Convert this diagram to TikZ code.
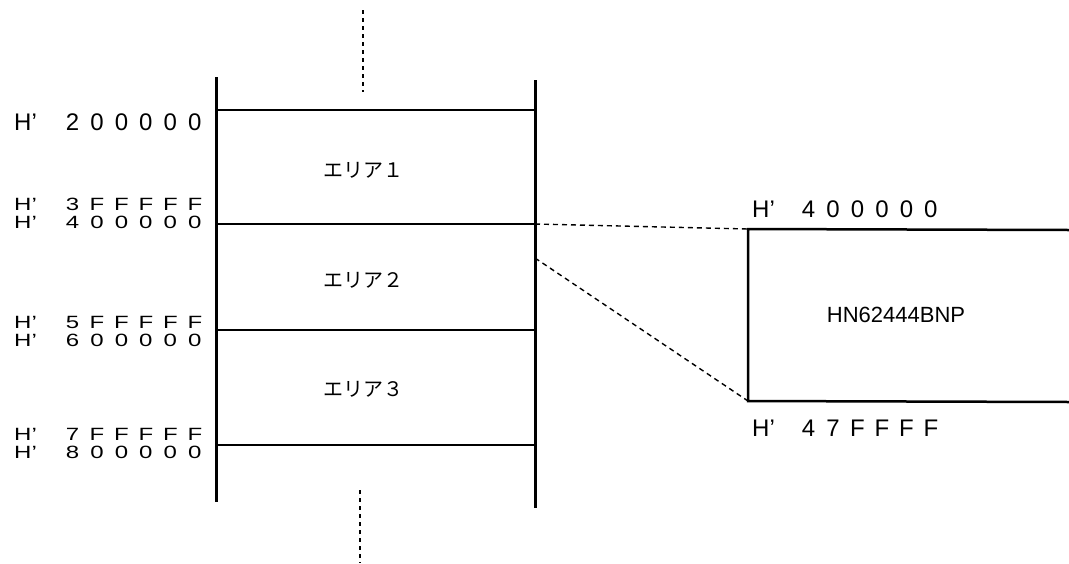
\documentclass[tikz,border=0pt]{standalone}
\usepackage{graphicx}
\usepackage{fontspec}
\setmainfont{Liberation Sans}
\newfontfamily\jpfont{Noto Sans CJK JP}
\def\dgs#1{\ifx#1\relax\else\makebox[24.5pt]{#1}\expandafter\dgs\fi}
\newcommand\addr[2][46pt]{\makebox[#1][l]{H’}\dgs #2\relax}
\newcommand\saddr[2][46pt]{\scalebox{1}[0.74]{\addr[#1]{#2}}}
\tikzset{
  lab/.style={inner sep=0pt, font=\fontsize{24}{24}\selectfont},
  area/.style={inner sep=0pt, font=\jpfont\fontsize{20}{20}\selectfont},
  chip/.style={inner sep=0pt, font=\fontsize{22}{22}\selectfont},
  rail/.style={line width=3pt},
  bar/.style={line width=2.5pt},
  dots/.style={line width=2.4pt, dash pattern=on 4pt off 4pt},
  link/.style={line width=1.4pt, dash pattern=on 5pt off 4pt},
}
\begin{document}
\begin{tikzpicture}[x=1pt,y=-1pt]
\useasboundingbox (0,0) rectangle (1069,563);
% rails
\coordinate (lt) at (216,77);  \coordinate (lb) at (216,502);
\coordinate (rt) at (535,80);  \coordinate (rb) at (535,508);
\draw[rail] (lt) -- (lb);
\draw[rail] (rt) -- (rb);
% boundaries
\foreach \n/\y in {a/110,b/224,c/330,d/445}{
  \coordinate (\n l) at (216,\y); \coordinate (\n r) at (535,\y);
  \draw[bar] (\n l) -- (\n r);
}
% continuation dots
\coordinate (dt1) at (363,10); \coordinate (dt2) at (363,92);
\coordinate (db1) at (360,490); \coordinate (db2) at (360,563);
\draw[dots] (dt1) -- (dt2);
\draw[dots] (db1) -- (db2);
% area labels
\node[area] (ar1) at (363,170) {エリア１};
\node[area] (ar2) at (363,280) {エリア２};
\node[area] (ar3) at (363,389) {エリア３};
% left address labels
\node[lab, anchor=west] (h2) at (14,122) {\addr{200000}};
\node[lab, anchor=west] (h3f) at (14,204) {\saddr{3FFFFF}};
\node[lab, anchor=west] (h4) at (14,222) {\saddr{400000}};
\node[lab, anchor=west] (h5f) at (14,322) {\saddr{5FFFFF}};
\node[lab, anchor=west] (h6) at (14,340) {\saddr{600000}};
\node[lab, anchor=west] (h7f) at (14,434) {\saddr{7FFFFF}};
\node[lab, anchor=west] (h8) at (14,452) {\saddr{800000}};
% chip box
\coordinate (ct) at (748,229); \coordinate (cb) at (748,401);
\coordinate (ctr) at (1069,230); \coordinate (cbr) at (1069,402);
\draw[bar] (ctr) -- (ct) -- (cb) -- (cbr);
\node[chip] (chip) at (896,315) {HN62444BNP};
\node[lab, anchor=west] (t4) at (752,209) {\addr[44pt]{400000}};
\node[lab, anchor=west] (t47) at (752,428) {\addr[44pt]{47FFFF}};
% zoom links
\coordinate (zs) at (535,258);
\draw[link] (br) -- (ct);
\draw[link] (zs) -- (cb);
\end{tikzpicture}
\end{document}
